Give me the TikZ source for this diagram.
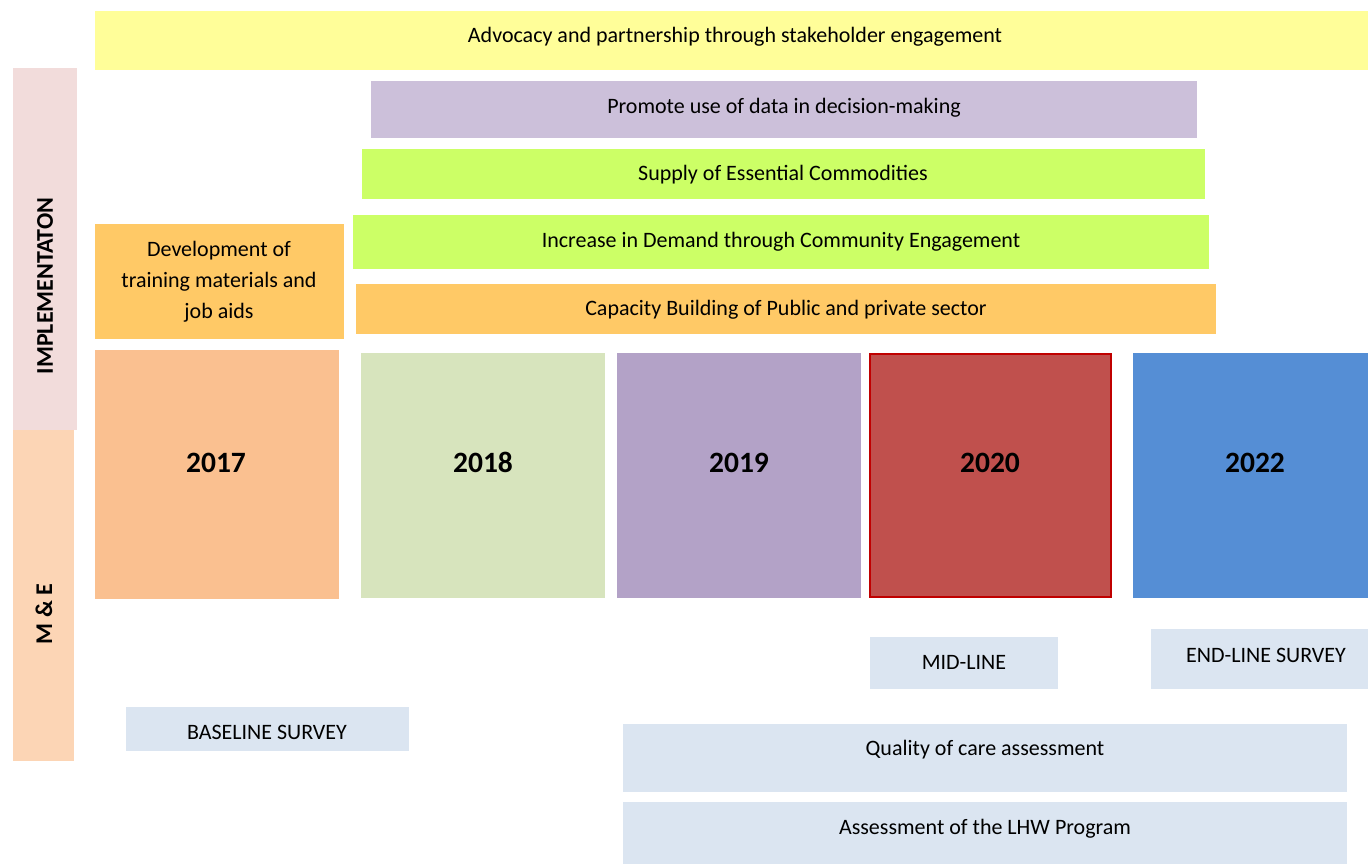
\documentclass[tikz,border=0pt]{standalone}
\usepackage{fontspec}
\setmainfont{Carlito}
\definecolor{cYellow}{HTML}{FFFE99}
\definecolor{cImpl}{HTML}{F2DCDB}
\definecolor{cME}{HTML}{FCD5B5}
\definecolor{cLav}{HTML}{CCC0DA}
\definecolor{cLime}{HTML}{CCFF66}
\definecolor{cOrange}{HTML}{FFC966}
\definecolor{cY17}{HTML}{FAC090}
\definecolor{cY18}{HTML}{D7E4BD}
\definecolor{cY19}{HTML}{B3A2C7}
\definecolor{cY20}{HTML}{C0504D}
\definecolor{cY20b}{HTML}{C00000}
\definecolor{cY22}{HTML}{558ED5}
\definecolor{cSurv}{HTML}{DBE5F1}
\begin{document}
\begin{tikzpicture}[x=1pt,y=-1pt,
  txt/.style={font=\fontsize{22}{31}\selectfont,inner sep=0pt,align=center,yshift=-2pt},
  yr/.style={font=\fontsize{29.5}{34}\selectfont\bfseries,inner sep=0pt,text depth=0pt,text height=20pt},
  side/.style={font=\fontsize{24}{28}\selectfont\bfseries,inner sep=0pt,rotate=90}]
\useasboundingbox (0,0) rectangle (1368,864);
\fill[white] (0,0) rectangle (1368,864);
% side bars
\path[fill=cImpl] (13,68) rectangle (77,430);
\path[fill=cME] (13,430) rectangle (74,761);
\node[side] (impl) at (45,286) {IMPLEMENTATON};
\node[side] (me) at (44,614) {M \& E};
% top bars
\path[fill=cYellow] (95,11) rectangle (1368,70);
\node[txt] (adv) at (735,35) {Advocacy and partnership through stakeholder engagement};
\path[fill=cLav] (371,81) rectangle (1197,138);
\node[txt] (data) at (784,106) {Promote use of data in decision-making};
\path[fill=cLime] (362,149) rectangle (1205,199);
\node[txt] (supply) at (783,173) {Supply of Essential Commodities};
\path[fill=cLime] (353,215) rectangle (1209,269);
\node[txt] (demand) at (781,240) {Increase in Demand through Community Engagement};
\path[fill=cOrange] (356,284) rectangle (1216,334);
\node[txt] (cap) at (786,308) {Capacity Building of Public and private sector};
\path[fill=cOrange] (95,224) rectangle (344,339);
\node[txt] (dev) at (219,280) {Development of\\training materials and\\job aids};
% years
\path[fill=cY17] (95,350) rectangle (339,599);
\node[yr] (y17) at (216,462) {2017};
\path[fill=cY18] (361,353) rectangle (605,598);
\node[yr] (y18) at (483,462) {2018};
\path[fill=cY19] (617,353) rectangle (861,598);
\node[yr] (y19) at (739,462) {2019};
\path[fill=cY20,draw=cY20b,line width=1.6pt] (870,354) rectangle (1111,597);
\node[yr] (y20) at (990,462) {2020};
\path[fill=cY22] (1133,353) rectangle (1368,598);
\node[yr] (y22) at (1255,462) {2022};
% surveys
\path[fill=cSurv] (870,637) rectangle (1058,689);
\node[txt] (mid) at (964,660) {MID-LINE};
\path[fill=cSurv] (1151,629) rectangle (1368,689);
\node[txt] (end) at (1266,653) {END-LINE SURVEY};
\path[fill=cSurv] (126,707) rectangle (409,751);
\node[txt] (base) at (267,730) {BASELINE SURVEY};
\path[fill=cSurv] (623,724) rectangle (1347,792);
\node[txt] (qual) at (985,748) {Quality of care assessment};
\path[fill=cSurv] (623,802) rectangle (1347,864);
\node[txt] (lhw) at (985,827) {Assessment of the LHW Program};
\end{tikzpicture}
\end{document}
